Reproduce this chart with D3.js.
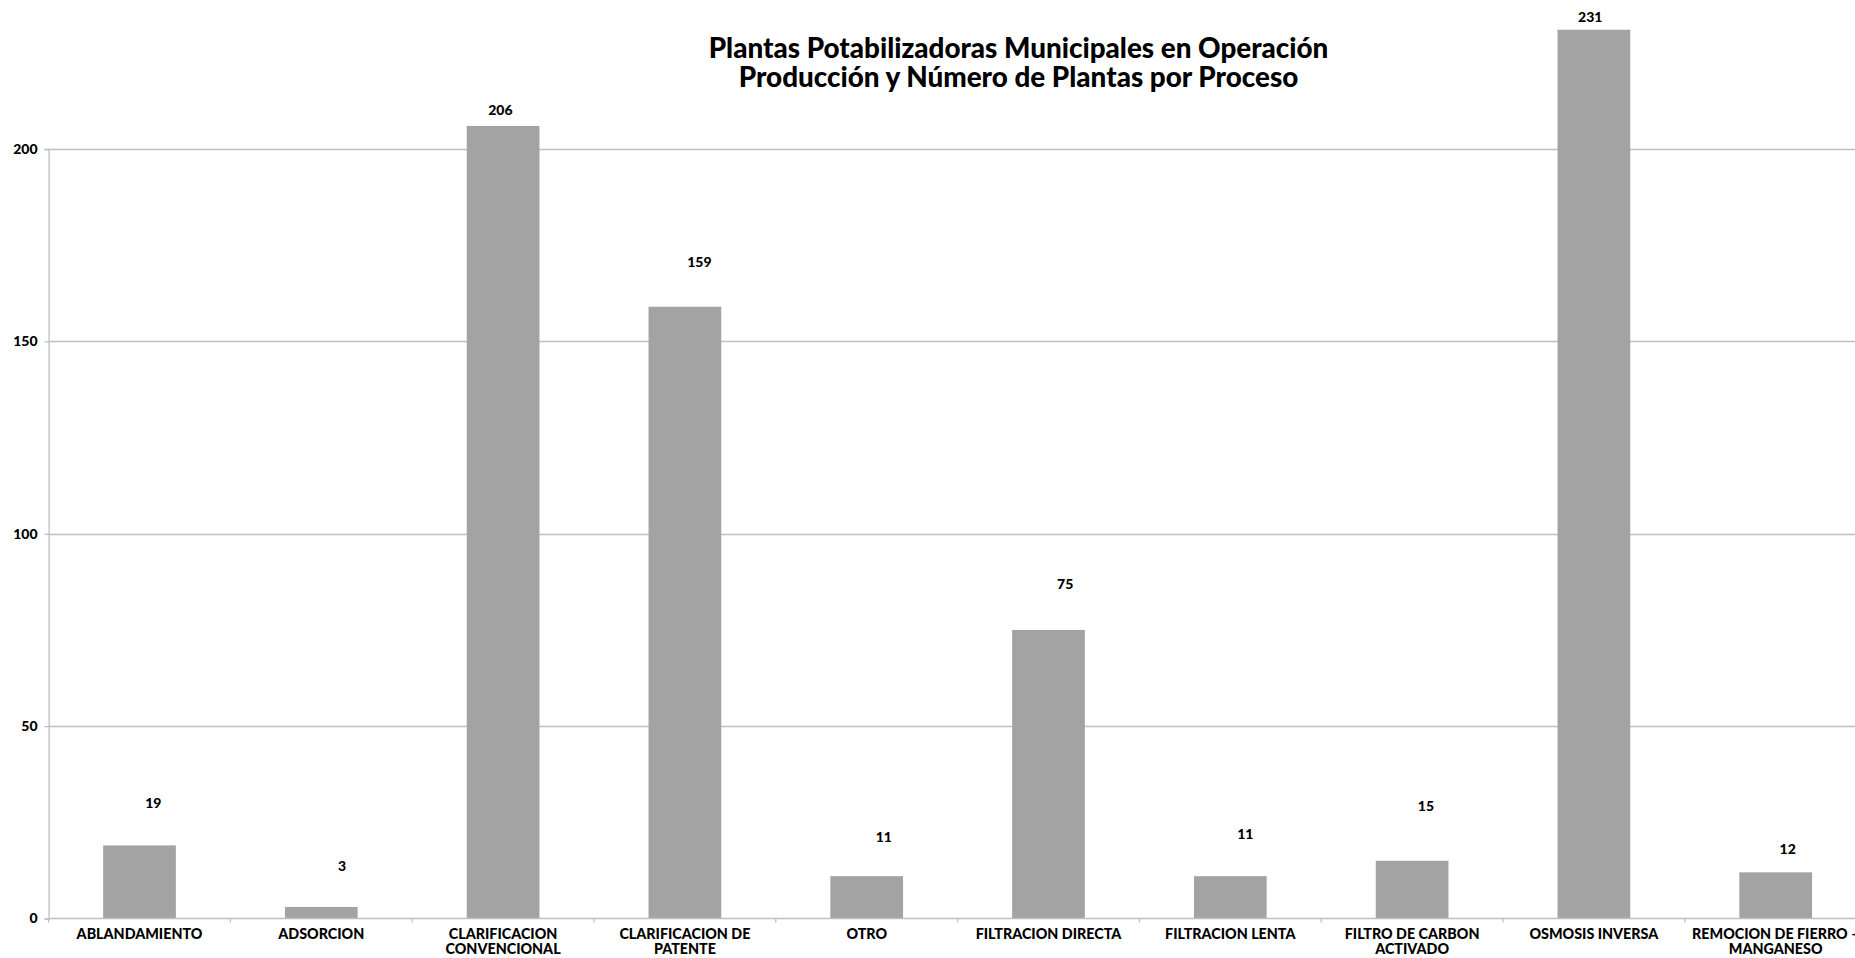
<!DOCTYPE html>
<html>
<head>
<meta charset="utf-8">
<script src="https://cdn.jsdelivr.net/npm/d3@7"></script>
<style>
  html, body { margin: 0; padding: 0; background: #ffffff; overflow: hidden; }
  svg { display: block; }
  text { font-family: Lato, "Open Sans", "DejaVu Sans", sans-serif; font-weight: 900; fill: #000; }
</style>
</head>
<body>
<svg id="chart" width="1855" height="958"></svg>
<script>
// ---------------- DATA ----------------
const titleLines = [
  "Plantas Potabilizadoras Municipales en Operación",
  "Producción y Número de Plantas por Proceso"
];
const categories = [
  "ABLANDAMIENTO",
  "ADSORCION",
  "CLARIFICACION CONVENCIONAL",
  "CLARIFICACION DE PATENTE",
  "OTRO",
  "FILTRACION DIRECTA",
  "FILTRACION LENTA",
  "FILTRO DE CARBON ACTIVADO",
  "OSMOSIS INVERSA",
  "REMOCION DE FIERRO – MANGANESO"
];
const categoryLabelLines = [
  ["ABLANDAMIENTO"],
  ["ADSORCION"],
  ["CLARIFICACION", "CONVENCIONAL"],
  ["CLARIFICACION DE", "PATENTE"],
  ["OTRO"],
  ["FILTRACION DIRECTA"],
  ["FILTRACION LENTA"],
  ["FILTRO DE CARBON", "ACTIVADO"],
  ["OSMOSIS INVERSA"],
  ["REMOCION DE FIERRO –", "MANGANESO"]
];
const plantCounts = [19, 3, 206, 159, 11, 75, 11, 15, 231, 12];
const yTickValues = [0, 50, 100, 150, 200];
// level (in axis units) of the hidden series that carries the value labels
const labelLevels = [29.9, 13.7, 210.1, 170.6, 21.3, 86.9, 21.9, 29.3, 234.2, 18.1];

// ---------------- LAYOUT / STYLE ----------------
const W = 1855, H = 958;
const plotLeft = 48.6, plotRight = 1866.6, plotBottom = 918.5, plotTop = 149;
const labelShift = [0.076, 0.114, -0.015, 0.080, 0.094, 0.092, 0.083, 0.076, -0.020, 0.066]; // fraction of category step
const barColor = "#a3a3a3";
const gridColor = "#bfbfbf";

const svg = d3.select("#chart");

const xCat = d3.scaleBand().domain(categories).range([plotLeft, plotRight]).padding(0);
const xBar = d3.scaleBand().domain(categories).range([plotLeft, plotRight])
  .paddingInner(0.6).paddingOuter(0.3);
const y = d3.scaleLinear().domain([0, 200]).range([plotBottom, plotTop]);

const data = categories.map((c, i) => ({ cat: c, value: plantCounts[i], level: labelLevels[i], lines: categoryLabelLines[i], shift: labelShift[i] }));

// gridlines
svg.append("g").selectAll("line").data(yTickValues.filter(v => v !== 0)).join("line")
  .attr("x1", plotLeft).attr("x2", W)
  .attr("y1", d => Math.round(y(d)) + 0.5).attr("y2", d => Math.round(y(d)) + 0.5)
  .attr("stroke", gridColor).attr("stroke-width", 1.3);

// y axis
const yAxis = d3.axisLeft(y).tickValues(yTickValues).tickSize(4).tickPadding(7).tickFormat(d3.format("d"));
const gy = svg.append("g").attr("transform", `translate(${plotLeft},0)`).call(yAxis);
gy.select(".domain").attr("stroke", gridColor).attr("stroke-width", 1.3);
gy.selectAll(".tick line").attr("stroke", gridColor).attr("stroke-width", 1.3);
gy.selectAll(".tick text").style("font-size", "14px").style("font-family", "Lato, 'Open Sans', sans-serif").style("font-weight", 900).attr("fill", "#000");

// bars
svg.append("g").selectAll("rect").data(data).join("rect")
  .attr("x", d => xBar(d.cat))
  .attr("width", xBar.bandwidth())
  .attr("y", d => y(d.value))
  .attr("height", d => y(0) - y(d.value))
  .attr("fill", barColor);

// x axis line and category boundary ticks
svg.append("line")
  .attr("x1", plotLeft).attr("x2", W)
  .attr("y1", plotBottom).attr("y2", plotBottom)
  .attr("stroke", gridColor).attr("stroke-width", 1.3);
const boundaries = categories.map(c => xCat(c)).concat([xCat(categories[categories.length - 1]) + xCat.bandwidth()]);
svg.append("g").selectAll("line").data(boundaries).join("line")
  .attr("x1", d => d).attr("x2", d => d)
  .attr("y1", plotBottom).attr("y2", plotBottom + 4)
  .attr("stroke", gridColor).attr("stroke-width", 1.3);

// category labels
const catG = svg.append("g").selectAll("text").data(data).join("text")
  .attr("text-anchor", "middle")
  .attr("x", d => xCat(d.cat) + xCat.bandwidth() / 2)
  .attr("y", plotBottom + 20)
  .style("font-size", "14.3px");
catG.selectAll("tspan").data(d => d.lines.map(l => ({ l, x: xCat(d.cat) + xCat.bandwidth() / 2 }))).join("tspan")
  .attr("x", d => d.x)
  .attr("dy", (d, i) => i === 0 ? 0 : 15.5)
  .text(d => d.l);

// value labels
svg.append("g").selectAll("text").data(data).join("text")
  .attr("text-anchor", "middle")
  .attr("x", d => xCat(d.cat) + xCat.bandwidth() / 2 + d.shift * xCat.step())
  .attr("y", d => y(d.level) + 5)
  .style("font-size", "14px")
  .text(d => d.value);

// title
const title = svg.append("g");
const t1 = title.append("text").attr("text-anchor", "middle").attr("x", 1018.5).attr("y", 58).style("font-size", "24px").text(titleLines[0]);
const w1 = t1.node().getComputedTextLength();
const fs = 24 * 620 / w1;
t1.style("font-size", fs + "px");
title.append("text").attr("text-anchor", "middle").attr("x", 1018.5).attr("y", 86.5).style("font-size", fs + "px").text(titleLines[1]);
</script>
</body>
</html>
